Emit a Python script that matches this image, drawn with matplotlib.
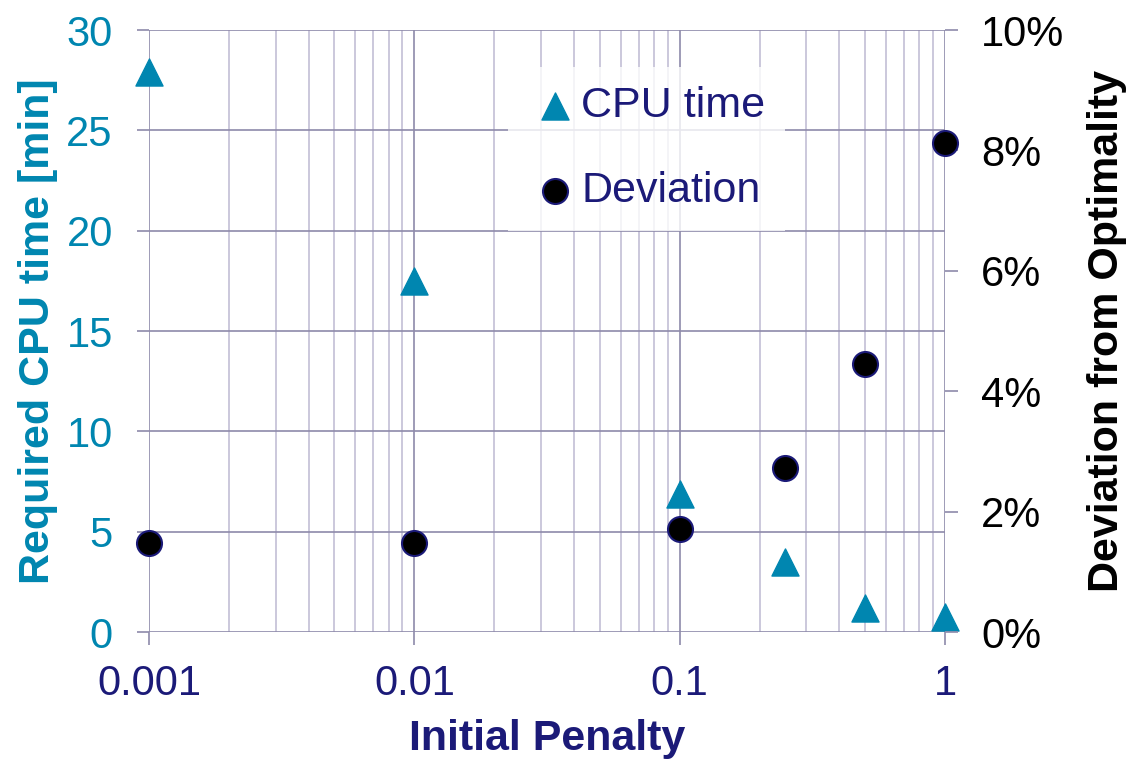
import numpy as np
import matplotlib.pyplot as plt
from matplotlib.ticker import FixedLocator, LogLocator, NullFormatter

plt.rcParams['font.family'] = ['Liberation Sans', 'DejaVu Sans']

penalty = [0.001, 0.01, 0.1, 0.25, 0.5, 1.0]
cpu_time = [27.9, 17.5, 6.9, 3.5, 1.2, 0.75]
deviation = [1.48, 1.48, 1.71, 2.72, 4.45, 8.12]

left_ticks = [0, 5, 10, 15, 20, 25, 30]
right_ticks = [0, 2, 4, 6, 8, 10]
x_ticks = [0.001, 0.01, 0.1, 1]
x_labels = ['0.001', '0.01', '0.1', '1']

teal = '#0086b0'
navy = '#1b1a78'
grid_major = '#8e8aaa'
grid_minor = '#c2bfd6'
fs_tick = 30
fs_lab = 31

fig = plt.figure(figsize=(11.26, 7.6), dpi=100)
ax = fig.add_axes([0.1323, 0.1684, 0.7070, 0.7921])
ax2 = ax.twinx()

ax.set_xscale('log')
ax.set_xlim(0.001, 1)
ax.set_ylim(0, 30)
ax2.set_ylim(0, 10)

ax.xaxis.set_major_locator(FixedLocator(x_ticks))
ax.set_xticklabels(x_labels)
ax.xaxis.set_minor_locator(LogLocator(base=10, subs=np.arange(2, 10)))
ax.xaxis.set_minor_formatter(NullFormatter())
ax.set_yticks(left_ticks)
ax2.set_yticks(right_ticks)
ax2.set_yticklabels([f'{t}%' for t in right_ticks])

ax.grid(True, which='major', axis='both', color=grid_major, lw=1.2)
ax.grid(True, which='minor', axis='x', color=grid_minor, lw=1.2)
ax.set_axisbelow(True)

for sp in ax.spines.values():
    sp.set_visible(False)
for sp in ax2.spines.values():
    sp.set_visible(False)

ax.tick_params(axis='x', which='major', length=9, width=1.2, color=grid_major,
               labelsize=fs_tick, labelcolor=navy, pad=14)
ax.tick_params(axis='x', which='minor', length=0)
ax.tick_params(axis='y', length=9, width=1.2, color=grid_major,
               labelsize=fs_tick, labelcolor=teal, pad=17)
ax2.tick_params(axis='y', length=9, width=1.2, color=grid_major,
                labelsize=fs_tick, labelcolor='black', pad=17)

ax.set_xlabel('Initial Penalty', fontsize=fs_lab, fontweight='bold', color=navy, labelpad=11)
ax.set_ylabel('Required CPU time [min]', fontsize=fs_lab, fontweight='bold', color=teal, labelpad=6)
ax2.set_ylabel('Deviation from Optimality', fontsize=fs_lab, fontweight='bold', color='black', labelpad=16)

h1 = ax.scatter(penalty, cpu_time, marker='^', s=380, color=teal, zorder=5,
                clip_on=False, label='CPU time')
h2 = ax2.scatter(penalty, deviation, marker='o', s=324, facecolor='black',
                 edgecolor=navy, linewidth=1.5, zorder=5, clip_on=False, label='Deviation')

leg = ax2.legend([h1, h2], ['CPU time', 'Deviation'], loc='upper left',
                 bbox_to_anchor=(0.451, 0.939),
                 fontsize=fs_lab, labelcolor=navy,
                 frameon=True, fancybox=False, edgecolor='none', framealpha=0.8,
                 handlelength=1.3, handletextpad=-0.05, labelspacing=1.05,
                 borderpad=0.45, borderaxespad=0, markerscale=1.0)

fig.savefig('out.png', dpi=100)
